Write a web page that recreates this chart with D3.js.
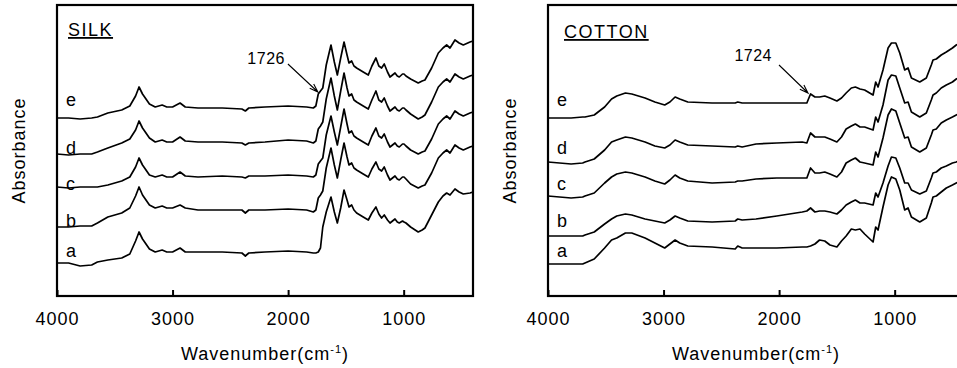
<!DOCTYPE html>
<html>
<head>
<meta charset="utf-8">
<script src="https://cdn.jsdelivr.net/npm/d3@7"></script>
<style>
body { margin: 0; background: #fff; }
text { font-family: "Liberation Sans", Arial, sans-serif; fill: #000; }
.trace { fill: none; stroke: #000; stroke-width: 1.7; stroke-linejoin: round; }
.frame { fill: none; stroke: #000; stroke-width: 2.2; }
</style>
</head>
<body>
<svg id="chart" width="957" height="368"></svg>
<script>
// wavenumber grids (cm-1) and absorbance (arbitrary units, traces offset)
var silkWavenumbers = [4000, 3900, 3800, 3700, 3650, 3560, 3440, 3370, 3320, 3290,
  3260, 3200, 3150, 3090, 3050, 3000, 2935, 2890, 2780, 2570,
  2400, 2370, 2340, 2200, 2000, 1840, 1782, 1760, 1739, 1720,
  1700, 1670, 1629, 1600, 1574, 1545, 1516, 1490, 1473, 1450,
  1430, 1407, 1350, 1306, 1275, 1240, 1215, 1191, 1168, 1140,
  1118, 1075, 1055, 1038, 1010, 997, 980, 940, 874, 840,
  816, 758, 700, 660, 628, 599, 556, 520, 484, 426, 400];

var silkA = [33, 33, 30, 31, 34, 36, 38, 42, 55, 64,
  57, 47, 44, 46, 44, 44, 48, 44, 44, 44,
  43, 40, 43, 44, 45, 44, 43, 43, 44, 48,
  69, 84, 99, 84, 73, 88, 106, 96, 89, 91,
  86, 83, 79, 76, 83, 89, 82, 78, 81, 76,
  73, 77, 74, 73, 75, 74, 73, 69, 64, 66,
  68, 81, 94, 100, 103, 101, 107, 104, 102, 103, 104];
var silkB = [69, 69, 70, 70, 73, 79, 83, 88, 100, 109,
  101, 91, 88, 90, 88, 88, 91, 88, 86, 86,
  86, 83, 86, 86, 87, 86, 84, 86, 98, 101,
  105, 128, 148, 131, 118, 136, 153, 139, 131, 133,
  128, 126, 122, 119, 127, 134, 127, 125, 129, 121,
  116, 120, 117, 116, 119, 119, 117, 112, 108, 110,
  111, 123, 138, 143, 146, 143, 151, 148, 146, 149, 150];
var silkC = [109, 108, 109, 109, 109, 111, 115, 119, 129, 138,
  131, 121, 119, 121, 119, 119, 124, 120, 119, 120,
  119, 118, 120, 120, 121, 120, 119, 121, 132, 135,
  138, 161, 180, 164, 151, 169, 187, 172, 163, 165,
  160, 158, 154, 151, 160, 168, 160, 158, 162, 154,
  149, 153, 150, 149, 152, 152, 150, 146, 142, 144,
  145, 157, 172, 177, 180, 177, 185, 182, 180, 183, 184];
var silkD = [142, 141, 142, 142, 144, 148, 153, 157, 166, 175,
  168, 158, 154, 156, 154, 154, 159, 155, 154, 154,
  153, 151, 153, 154, 156, 155, 153, 155, 167, 170,
  174, 197, 218, 200, 186, 205, 223, 208, 200, 202,
  196, 194, 190, 187, 196, 205, 196, 194, 198, 190,
  185, 189, 186, 185, 188, 188, 186, 182, 177, 179,
  181, 194, 209, 214, 217, 214, 222, 219, 217, 220, 221];
var silkE = [178, 178, 177, 178, 179, 183, 186, 190, 200, 209,
  202, 192, 189, 191, 189, 189, 193, 189, 188, 188,
  187, 185, 188, 189, 190, 189, 188, 190, 202, 205,
  208, 231, 251, 234, 221, 238, 254, 241, 233, 235,
  230, 228, 224, 221, 230, 238, 230, 228, 232, 224,
  219, 223, 220, 219, 222, 222, 220, 217, 213, 215,
  216, 228, 243, 248, 251, 248, 256, 253, 251, 254, 255];

var cottonWavenumbers = [4000, 3900, 3800, 3700, 3680, 3600, 3510, 3450, 3405, 3330,
  3275, 3160, 3075, 2990, 2945, 2900, 2860, 2790, 2580, 2380,
  2358, 2320, 2200, 2020, 1800, 1760, 1728, 1690, 1650, 1605,
  1560, 1500, 1460, 1420, 1375, 1340, 1300, 1260, 1187, 1164,
  1144, 1101, 1057, 1028, 990, 956, 913, 884, 855, 783,
  726, 683, 668, 640, 597, 553, 500, 467, 430, 400];

var cottonA = [32, 32, 32, 32, 33, 37, 48, 56, 58, 63,
  63, 58, 53, 48, 52, 56, 53, 50, 49, 47,
  50, 48, 48, 48, 49, 49, 50, 52, 56, 55,
  51, 49, 55, 60, 67, 66, 67, 62, 54, 69,
  66, 89, 111, 119, 117, 106, 86, 88, 79, 74,
  78, 93, 99, 100, 104, 108, 111, 113, 115, 116];
var cottonB = [60, 60, 60, 60, 61, 64, 72, 77, 80, 82,
  81, 77, 75, 73, 76, 80, 78, 75, 74, 75,
  77, 76, 77, 80, 84, 85, 88, 84, 85, 85,
  84, 82, 86, 91, 94, 96, 93, 93, 91, 103,
  99, 113, 130, 139, 138, 128, 113, 113, 106, 102,
  105, 118, 123, 124, 128, 130, 133, 134, 136, 137];
var cottonC = [100, 99, 98, 99, 100, 103, 113, 119, 122, 124,
  123, 119, 115, 112, 116, 121, 118, 115, 113, 114,
  115, 115, 117, 118, 118, 118, 128, 123, 123, 124,
  122, 119, 124, 133, 136, 138, 134, 133, 131, 144,
  139, 158, 181, 187, 185, 173, 158, 159, 149, 144,
  148, 161, 166, 167, 173, 176, 179, 181, 183, 185];
var cottonD = [134, 133, 132, 133, 134, 137, 146, 154, 156, 159,
  158, 154, 150, 148, 151, 156, 154, 151, 150, 149,
  150, 149, 152, 153, 154, 153, 163, 159, 159, 159,
  157, 154, 159, 167, 170, 172, 169, 169, 166, 179,
  174, 191, 216, 221, 220, 208, 193, 194, 184, 179,
  183, 196, 201, 203, 208, 211, 214, 217, 219, 221];
var cottonE = [178, 178, 178, 179, 179, 181, 189, 197, 200, 203,
  202, 198, 194, 191, 194, 199, 197, 194, 193, 193,
  194, 193, 193, 193, 193, 193, 202, 199, 199, 200,
  198, 195, 198, 203, 208, 209, 207, 206, 201, 214,
  209, 226, 248, 253, 253, 243, 226, 228, 218, 214,
  218, 231, 236, 237, 241, 244, 248, 251, 253, 255];

var seriesNames = ["a", "b", "c", "d", "e"];
var xTicks = [4000, 3000, 2000, 1000];

var WIDTH = 416, TOP = 5, BOTTOM = 296;
var labelLevels = [39, 69, 106, 142, 190];

var panels = [
  { title: "SILK", left: 57, titleDx: 11, titleY: 36, x: silkWavenumbers,
    series: [silkA, silkB, silkC, silkD, silkE],
    note: { text: "1726", wn: 1742, level: 204, dx: -30, dy: -28, tdx: -33, tdy: -28 } },
  { title: "COTTON", left: 548, titleDx: 16, titleY: 38, x: cottonWavenumbers,
    series: [cottonA, cottonB, cottonC, cottonD, cottonE],
    note: { text: "1724", wn: 1750, level: 203, dx: -29, dy: -28, tdx: -36, tdy: -32 } }
];

var svg = d3.select("#chart");

panels.forEach(function(p) {
  var x = d3.scaleLinear().domain([4000, 400]).range([p.left, p.left + WIDTH]);
  var y = d3.scaleLinear().domain([0, BOTTOM - TOP]).range([BOTTOM, TOP]);
  var g = svg.append("g");

  var line = d3.line()
    .x(function(d) { return x(d[0]); })
    .y(function(d) { return y(d[1]); });

  p.series.forEach(function(vals, i) {
    g.append("path")
      .datum(d3.zip(p.x, vals))
      .attr("class", "trace")
      .attr("d", line);

    g.append("text")
      .attr("x", p.left + 9)
      .attr("y", y(labelLevels[i]))
      .style("font-size", "18px")
      .text(seriesNames[i]);
  });

  // frame
  g.append("rect")
    .attr("class", "frame")
    .attr("x", p.left).attr("y", TOP)
    .attr("width", WIDTH).attr("height", BOTTOM - TOP);

  var axis = g.append("g")
    .attr("transform", "translate(0," + BOTTOM + ")")
    .call(d3.axisBottom(x).tickValues(xTicks).tickSize(-6).tickPadding(16).tickFormat(d3.format("d")));
  axis.select(".domain").remove();
  axis.selectAll(".tick line").attr("stroke", "#000").attr("stroke-width", 2);
  axis.selectAll(".tick text")
    .attr("fill", "#000")
    .style("font-family", '"Liberation Sans", Arial, sans-serif')
    .style("font-size", "18px")
    .style("letter-spacing", "1px");

  // panel title
  g.append("text")
    .attr("x", p.left + p.titleDx)
    .attr("y", p.titleY)
    .style("font-size", "18px")
    .style("letter-spacing", "1.5px")
    .style("text-decoration", "underline")
    .text(p.title);

  // axis titles
  g.append("text")
    .attr("transform", "translate(" + (p.left - 32) + "," + ((TOP + BOTTOM) / 2) + ") rotate(-90)")
    .attr("text-anchor", "middle")
    .style("font-size", "18px")
    .style("letter-spacing", "1px")
    .text("Absorbance");

  var xt = g.append("text")
    .attr("x", p.left + WIDTH / 2)
    .attr("y", 360)
    .attr("text-anchor", "middle")
    .style("font-size", "18px")
    .style("letter-spacing", "1px");
  xt.append("tspan").text("Wavenumber(cm");
  xt.append("tspan").attr("dy", -7).style("font-size", "11px").text("-1");
  xt.append("tspan").attr("dy", 7).text(")");

  // annotation arrow
  var n = p.note;
  var tx = x(n.wn), ty = y(n.level);
  var sx = tx + n.dx, sy = ty + n.dy;
  var ang = Math.atan2(ty - sy, tx - sx);
  var hl = 9, spread = 0.33;
  g.append("path")
    .attr("d", "M" + sx + "," + sy + "L" + tx + "," + ty +
      "M" + (tx - hl * Math.cos(ang - spread)) + "," + (ty - hl * Math.sin(ang - spread)) +
      "L" + tx + "," + ty +
      "L" + (tx - hl * Math.cos(ang + spread)) + "," + (ty - hl * Math.sin(ang + spread)))
    .attr("fill", "none")
    .attr("stroke", "#000")
    .attr("stroke-width", 1.1);
  g.append("text")
    .attr("x", tx + n.tdx)
    .attr("y", ty + n.tdy)
    .attr("text-anchor", "end")
    .style("font-size", "16px")
    .style("letter-spacing", "0.5px")
    .text(n.text);
});
</script>
</body>
</html>
